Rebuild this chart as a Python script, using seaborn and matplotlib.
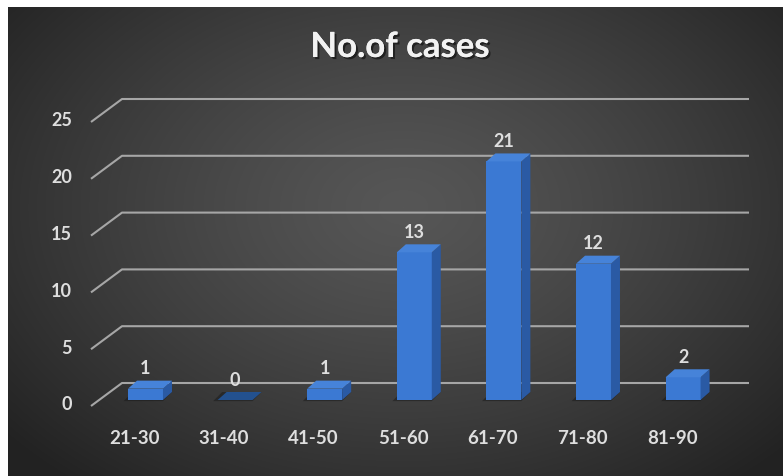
import numpy as np
import matplotlib
matplotlib.use("Agg")
import matplotlib.pyplot as plt
import matplotlib.patheffects as pe
from matplotlib.patches import Polygon
import seaborn as sns

# Data
age_groups = ["21-30", "31-40", "41-50", "51-60", "61-70", "71-80", "81-90"]
cases = [1, 0, 1, 13, 21, 12, 2]
y_ticks = [0, 5, 10, 15, 20, 25]
title = "No.of cases"

sns.set_theme(style="white")
plt.rcParams["font.family"] = ["Lato", "DejaVu Sans"]

W, H = 783, 476
fig = plt.figure(figsize=(W / 100, H / 100), dpi=100, facecolor="white")

# Dark radial-gradient backdrop
bg = fig.add_axes([8 / W, 0, (W - 8) / W, (H - 7) / H])
bw, bh = W - 8, H - 7
yy, xx = np.mgrid[0:bh, 0:bw]
cx, cy = 395, 200
r = np.sqrt(((xx - cx) / 520.0) ** 2 + ((yy - cy) / 360.0) ** 2)
r = np.clip(r, 0, 1)
val = 0x56 - (0x56 - 0x22) * r ** 1.3
img = np.dstack([val, val, val]) / 255.0
bg.imshow(img, aspect="auto", interpolation="bilinear")
bg.axis("off")

# Plot axes laid over the backdrop (pixel-calibrated)
px_per_cat = 89.6
px_per_unit = 11.36
x_center0 = 145.5   # pixel x of first bar centre
y_base = 400        # pixel y of bar front bottom
left_px = x_center0 - px_per_cat
ax = fig.add_axes([left_px / W, 0, 8 * px_per_cat / W, 1])
ax.patch.set_alpha(0)

front_c = "#3b79d3"
side_c = "#2a5aa4"
top_c = "#4683d9"
sns.barplot(x=age_groups, y=cases, ax=ax, color=front_c, width=0.39,
            saturation=1, zorder=3)
ax.set_xlim(-1, 7)
ax.set_ylim(-(H - y_base) / px_per_unit, y_base / px_per_unit)
ax.axis("off")

ddx = 9 / px_per_cat
ddy = 8 / px_per_unit
back_dy = (y_base - 383) / px_per_unit
front_dx0 = (91 - x_center0) / px_per_cat
back_dx0 = (122 - x_center0) / px_per_cat
back_dx1 = (749 - x_center0) / px_per_cat
front_dy = back_dy - 23 / px_per_unit

grid_c = "#a6a6a6"
label_c = "#dedede"
for v in y_ticks:
    ax.plot([front_dx0, back_dx0, back_dx1],
            [v + front_dy, v + back_dy, v + back_dy],
            color=grid_c, lw=1.5, zorder=1, solid_capstyle="butt")
    ax.text((72 - x_center0) / px_per_cat, v + front_dy + 0.1, str(v),
            ha="right", va="center", fontsize=13, fontweight="bold",
            color=label_c)

# 3D faces for each bar
for i, p in enumerate(ax.patches):
    x0 = p.get_x()
    w = p.get_width()
    h = p.get_height()
    x1 = x0 + w
    p.set_edgecolor("none")
    # soft shadow on the floor
    shadow = Polygon([(x0 - 0.05, -0.1), (x1, -0.1), (x1 + ddx, ddy),
                      (x0 + ddx - 0.05, ddy)], closed=True,
                     facecolor="#151515", alpha=0.45, edgecolor="none",
                     zorder=2)
    ax.add_patch(shadow)
    if h > 0:
        side = Polygon([(x1, 0), (x1 + ddx, ddy), (x1 + ddx, h + ddy),
                        (x1, h)], closed=True, facecolor=side_c,
                       edgecolor="none", zorder=3)
        ax.add_patch(side)
    tc = top_c if h > 0 else "#23518f"
    top = Polygon([(x0, h), (x0 + ddx, h + ddy), (x1 + ddx, h + ddy),
                   (x1, h)], closed=True, facecolor=tc, edgecolor="none",
                  zorder=3)
    ax.add_patch(top)
    ax.text(x0 + w / 2, h + 20 / px_per_unit, str(cases[i]), ha="center",
            va="center", fontsize=13, fontweight="bold", color=label_c,
            zorder=5)
    ax.text(i - 11 / px_per_cat, -(439 - y_base) / px_per_unit,
            age_groups[i], ha="center", va="center", fontsize=13.5,
            fontweight="bold", color=label_c)

fig.text(400 / W, 1 - 47 / H, title, ha="center", va="center",
         fontsize=25, fontweight="bold", color="#f2f2f2",
         path_effects=[pe.withSimplePatchShadow(offset=(1.5, -1.5),
                                                shadow_rgbFace="black",
                                                alpha=0.5),
                       pe.Normal()])

fig.savefig("out.png", dpi=100, facecolor="white")
